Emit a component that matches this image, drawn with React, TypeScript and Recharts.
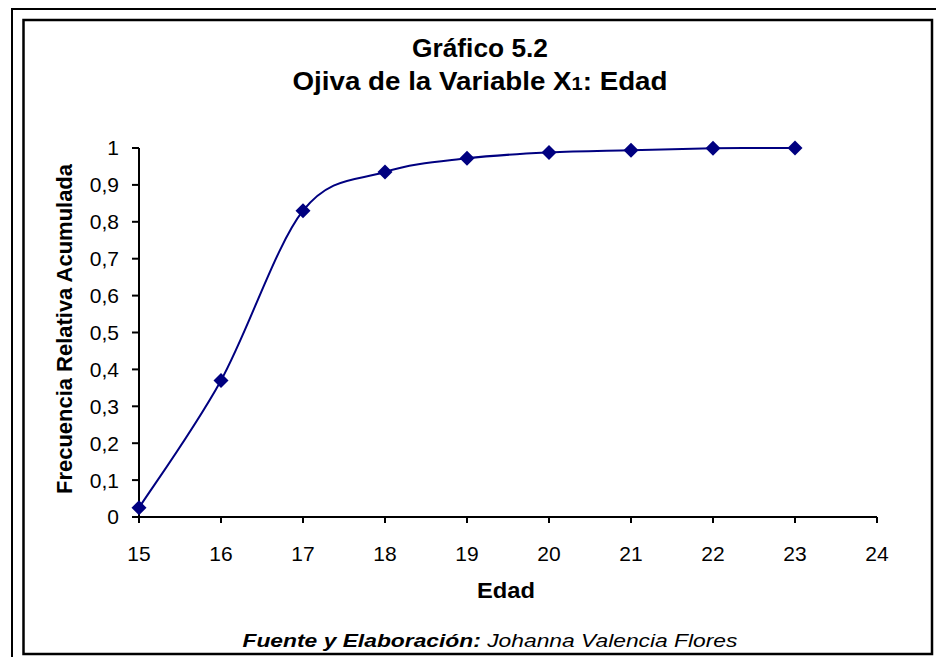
import React from 'react';
import { LineChart, Line, XAxis, YAxis } from 'recharts';

const ages = [15, 16, 17, 18, 19, 20, 21, 22, 23];
const cumRelFreq = [0.025, 0.37, 0.83, 0.935, 0.972, 0.988, 0.994, 0.999, 1.0];
const xTicks = [15, 16, 17, 18, 19, 20, 21, 22, 23, 24];
const yTicks = [0, 0.1, 0.2, 0.3, 0.4, 0.5, 0.6, 0.7, 0.8, 0.9, 1];

const data = ages.map((a, i) => ({ x: a, y: cumRelFreq[i] }));

const FONT = "Arial, 'Liberation Sans', sans-serif";
const NAVY = '#000080';

// Excel-like smoothed line (Catmull-Rom style Bezier)
function excelSmooth(context: any) {
  let pts: [number, number][] = [];
  return {
    areaStart() {},
    areaEnd() {},
    lineStart() {
      pts = [];
    },
    point(x: number, y: number) {
      pts.push([+x, +y]);
    },
    lineEnd() {
      const n = pts.length;
      if (n === 0) return;
      context.moveTo(pts[0][0], pts[0][1]);
      for (let i = 0; i < n - 1; i++) {
        const p0 = pts[Math.max(i - 1, 0)];
        const p1 = pts[i];
        const p2 = pts[i + 1];
        const p3 = pts[Math.min(i + 2, n - 1)];
        context.bezierCurveTo(
          p1[0] + (p2[0] - p0[0]) / 6,
          p1[1] + (p2[1] - p0[1]) / 6,
          p2[0] - (p3[0] - p1[0]) / 6,
          p2[1] - (p3[1] - p1[1]) / 6,
          p2[0],
          p2[1]
        );
      }
    },
  };
}

const Diamond = (props: any) => {
  const { cx, cy, index } = props;
  if (cx == null || cy == null) return null;
  const r = 7.5;
  return (
    <polygon
      key={`d-${index}`}
      points={`${cx},${cy - r} ${cx + r},${cy} ${cx},${cy + r} ${cx - r},${cy}`}
      fill={NAVY}
    />
  );
};

const fmt = (v: number) => String(v).replace('.', ',');

export default function App() {
  return (
    <div style={{ position: 'absolute', left: 0, top: 0, width: 936, height: 657, background: '#fff', overflow: 'hidden' }}>
      <div style={{ position: 'absolute', left: 0, top: 0 }}>
        <LineChart
          width={936}
          height={657}
          data={data}
          margin={{ top: 148, right: 59, bottom: 80, left: 59 }}
        >
          <XAxis
            dataKey="x"
            type="number"
            domain={[15, 24]}
            ticks={xTicks}
            interval={0}
            axisLine={{ stroke: '#000', strokeWidth: 2 }}
            tickLine={{ stroke: '#000', strokeWidth: 2 }}
            tickSize={6}
            tickMargin={23}
            height={60}
            tick={{ fontSize: 21, fill: '#000', fontFamily: FONT }}
          />
          <YAxis
            type="number"
            domain={[0, 1]}
            ticks={yTicks}
            interval={0}
            tickFormatter={fmt}
            axisLine={{ stroke: '#000', strokeWidth: 2 }}
            tickLine={{ stroke: '#000', strokeWidth: 2 }}
            tickSize={7}
            tickMargin={13}
            width={80}
            tick={{ fontSize: 21, fill: '#000', fontFamily: FONT }}
          />
          <Line
            dataKey="y"
            type={excelSmooth as any}
            stroke={NAVY}
            strokeWidth={2}
            dot={<Diamond />}
            activeDot={false}
            isAnimationActive={false}
          />
        </LineChart>
      </div>
      <svg
        width={936}
        height={657}
        style={{ position: 'absolute', left: 0, top: 0, pointerEvents: 'none' }}
      >
        <rect x={12} y={9} width={940} height={660} fill="none" stroke="#000" strokeWidth={2} />
        <rect x={23.5} y={20} width={908.5} height={634} fill="none" stroke="#000" strokeWidth={2.5} />
        <text x={480} y={57} textAnchor="middle" fontFamily={FONT} fontWeight="bold" fontSize={25} fill="#000" textLength={136} lengthAdjust="spacingAndGlyphs">
          Gráfico 5.2
        </text>
        <text x={480} y={90} textAnchor="middle" fontFamily={FONT} fontWeight="bold" fontSize={25} fill="#000" textLength={375} lengthAdjust="spacingAndGlyphs">
          Ojiva de la Variable X<tspan fontSize={18}>1</tspan>: Edad
        </text>
        <text
          transform="translate(72, 329) rotate(-90)"
          x={0}
          y={0}
          textAnchor="middle"
          fontFamily={FONT}
          fontWeight="bold"
          fontSize={22}
          fill="#000"
          textLength={330}
          lengthAdjust="spacingAndGlyphs"
        >
          Frecuencia Relativa Acumulada
        </text>
        <text x={506} y={598} textAnchor="middle" fontFamily={FONT} fontWeight="bold" fontSize={22} fill="#000" textLength={58} lengthAdjust="spacingAndGlyphs">
          Edad
        </text>
        <text x={490} y={647} textAnchor="middle" fontFamily={FONT} fontStyle="italic" fontSize={19} fill="#000" textLength={495} lengthAdjust="spacingAndGlyphs">
          <tspan fontWeight="bold">Fuente y Elaboración:</tspan> Johanna Valencia Flores
        </text>
      </svg>
    </div>
  );
}
